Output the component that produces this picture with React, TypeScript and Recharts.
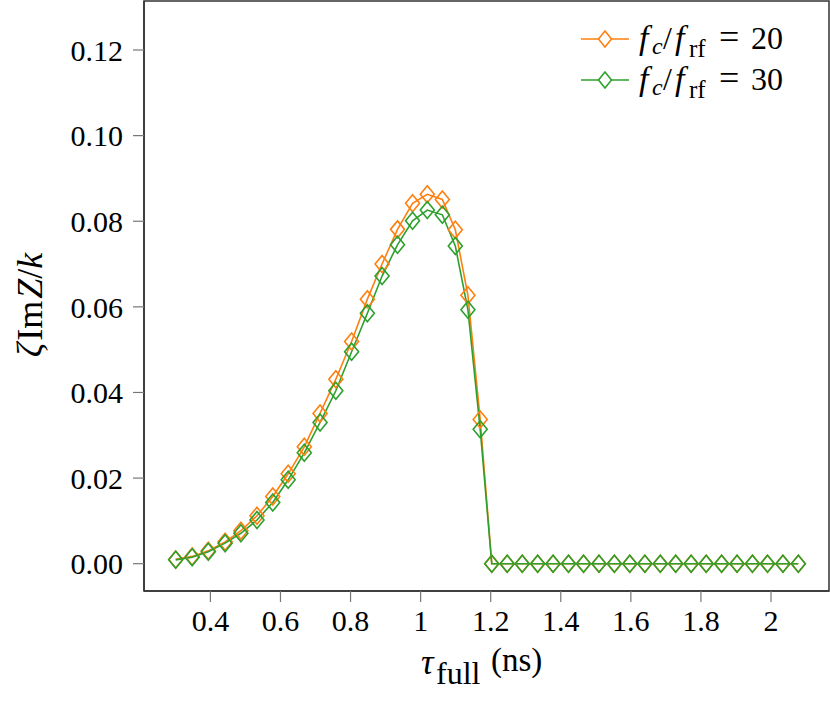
import React from 'react';
import { LineChart, Line, XAxis, YAxis, ReferenceArea, Legend, Label } from 'recharts';

// τ_full (ns)
const tau = [
  0.301, 0.348, 0.394, 0.442, 0.487, 0.533, 0.578, 0.622, 0.668, 0.713,
  0.758, 0.803, 0.848, 0.890, 0.934, 0.977, 1.019, 1.062, 1.099, 1.135,
  1.170, 1.203, 1.247, 1.290, 1.334, 1.378, 1.422, 1.465, 1.509, 1.553,
  1.597, 1.640, 1.684, 1.728, 1.772, 1.815, 1.859, 1.903, 1.947, 1.990,
  2.034, 2.078,
];

// f_c/f_rf = 20
const imz20 = [
  0.0010, 0.0017, 0.0030, 0.0051, 0.0077, 0.0112, 0.0157, 0.0210, 0.0273, 0.0351,
  0.0431, 0.0519, 0.0618, 0.0700, 0.0781, 0.0842, 0.0863, 0.0851, 0.0780, 0.0627,
  0.0337, 0, 0, 0, 0, 0, 0, 0, 0, 0,
  0, 0, 0, 0, 0, 0, 0, 0, 0, 0,
  0, 0,
];

// f_c/f_rf = 30
const imz30 = [
  0.0009, 0.0015, 0.0028, 0.0048, 0.0071, 0.0102, 0.0143, 0.0196, 0.0259, 0.0330,
  0.0404, 0.0495, 0.0585, 0.0672, 0.0745, 0.0801, 0.0826, 0.0815, 0.0742, 0.0593,
  0.0314, 0, 0, 0, 0, 0, 0, 0, 0, 0,
  0, 0, 0, 0, 0, 0, 0, 0, 0, 0,
  0, 0,
];

const ratios = ['20', '30'];
const xTicks = [0.4, 0.6, 0.8, 1, 1.2, 1.4, 1.6, 1.8, 2];
const yTicks = [0, 0.02, 0.04, 0.06, 0.08, 0.1, 0.12];

const COLORS = ['#ff7f0e', '#2ca02c'];
const FONT = '"Liberation Serif", "DejaVu Serif", serif';
const FS = 30;

const X_DOMAIN: [number, number] = [0.2105, 2.1655];
const Y_DOMAIN: [number, number] = [-0.00638, 0.13145];

const data = tau.map((t, i) => ({ tau: t, s20: imz20[i], s30: imz30[i] }));

const makeDiamond = (color: string) => (props: any) => {
  const { cx, cy, index } = props;
  if (cx == null || cy == null) return <g key={`d-${index}`} />;
  return (
    <path
      key={`d-${index}`}
      d={`M${cx},${cy - 8.5} L${cx + 7},${cy} L${cx},${cy + 8.5} L${cx - 7},${cy} Z`}
      fill="none"
      stroke={color}
      strokeWidth={1.6}
    />
  );
};

const LegendContent = () => (
  <svg width={260} height={100} style={{ overflow: 'visible' }}>
    {ratios.map((r, i) => {
      const y = 24 + i * 41;
      const b = y + 10;
      return (
        <g key={r}>
          <line x1={6} x2={54} y1={y} y2={y} stroke={COLORS[i]} strokeWidth={1.6} />
          <path d={`M30,${y - 8} L36.5,${y} L30,${y + 8} L23.5,${y} Z`} fill="#fff" stroke={COLORS[i]} strokeWidth={1.6} />
          <text fontFamily={FONT} fontSize={31} fill="#000">
            <tspan x={64} y={b} fontStyle="italic" fontSize={34}>f</tspan>
            <tspan x={77} y={b + 5} fontStyle="italic" fontSize={24}>c</tspan>
            <tspan x={88} y={b} fontSize={32}>/</tspan>
            <tspan x={100} y={b} fontStyle="italic" fontSize={34}>f</tspan>
            <tspan x={114} y={b + 8} fontSize={25}>rf</tspan>
            <tspan x={144} y={b} fontSize={36}>=</tspan>
            <tspan x={176} y={b} fontSize={32}>{r}</tspan>
          </text>
        </g>
      );
    })}
  </svg>
);

const fmtX = (v: number) => (Number.isInteger(v) ? String(v) : v.toFixed(1));
const fmtY = (v: number) => v.toFixed(2);

const XLabel = () => (
  <text fontFamily={FONT} fontSize={32} fill="#000">
    <tspan x={421} y={674} fontStyle="italic" fontSize={35}>τ</tspan>
    <tspan x={436} y={684} fontSize={32}>full</tspan>
    <tspan x={491} y={671} fontSize={33}>(ns)</tspan>
  </text>
);

const YLabel = () => (
  <text
    x={0}
    y={0}
    transform="translate(42, 305) rotate(-90)"
    fontFamily={FONT}
    fontSize={36}
    fill="#000"
    textAnchor="middle"
  >
    <tspan fontStyle="italic">ζ</tspan>
    <tspan dx={2}>Im</tspan>
    <tspan fontStyle="italic" dx={2}>Z</tspan>
    <tspan>/</tspan>
    <tspan fontStyle="italic">k</tspan>
  </text>
);

export default function App() {
  return (
    <div style={{ position: 'absolute', left: 0, top: 0, width: 830, height: 702, background: '#fff' }}>
      <LineChart
        width={830}
        height={702}
        data={data}
        margin={{ top: 1, right: 1, left: 0, bottom: 0 }}
      >
        <XAxis
          dataKey="tau"
          type="number"
          domain={X_DOMAIN}
          ticks={xTicks}
          tickFormatter={fmtX}
          allowDataOverflow
          height={111}
          axisLine={{ stroke: '#333', strokeWidth: 1.5 }}
          tickLine={{ stroke: '#777', strokeWidth: 1.2 }}
          tickSize={11}
          tickMargin={8}
          tick={{ fontFamily: FONT, fontSize: FS, fill: '#000' }}
        >
          <Label content={<XLabel />} />
        </XAxis>
        <YAxis
          type="number"
          domain={Y_DOMAIN}
          ticks={yTicks}
          tickFormatter={fmtY}
          allowDataOverflow
          width={144}
          axisLine={{ stroke: '#333', strokeWidth: 1.5 }}
          tickLine={{ stroke: '#777', strokeWidth: 1.2 }}
          tickSize={11}
          tickMargin={10}
          tick={{ fontFamily: FONT, fontSize: FS, fill: '#000' }}
        >
          <Label content={<YLabel />} />
        </YAxis>
        <ReferenceArea
          x1={X_DOMAIN[0]}
          x2={X_DOMAIN[1]}
          y1={Y_DOMAIN[0]}
          y2={Y_DOMAIN[1]}
          fill="none"
          stroke="#333"
          strokeWidth={1.5}
          ifOverflow="visible"
        />
        <Line
          dataKey="s20"
          stroke={COLORS[0]}
          strokeWidth={1.6}
          dot={makeDiamond(COLORS[0])}
          activeDot={false}
          isAnimationActive={false}
        />
        <Line
          dataKey="s30"
          stroke={COLORS[1]}
          strokeWidth={1.6}
          dot={makeDiamond(COLORS[1])}
          activeDot={false}
          isAnimationActive={false}
        />
        <Legend
          layout="horizontal"
          verticalAlign="middle"
          align="center"
          content={<LegendContent />}
          wrapperStyle={{ position: 'absolute', left: 575, top: 15, width: 260, height: 100 }}
        />
      </LineChart>
    </div>
  );
}
